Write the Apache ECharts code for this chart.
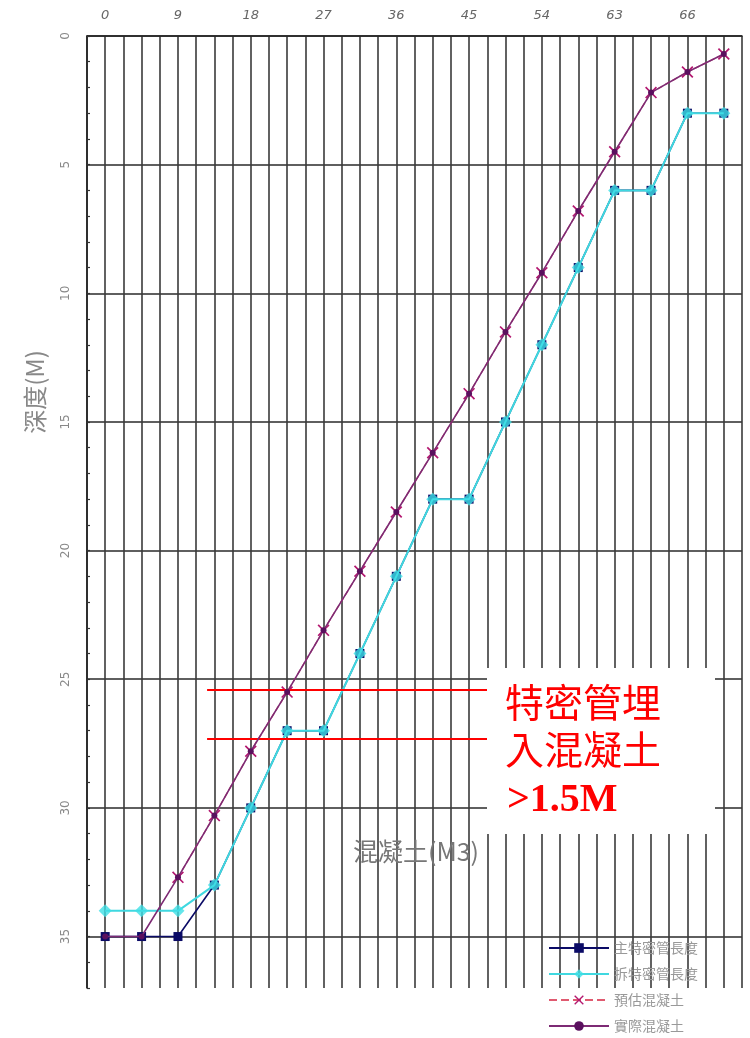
<!DOCTYPE html>
<html>
<head>
<meta charset="utf-8">
<script src="https://cdn.jsdelivr.net/npm/echarts@6/dist/echarts.min.js"></script>
<style>
  html, body { margin: 0; padding: 0; background: #fff; }
  #chart { width: 750px; height: 1038px; }
</style>
</head>
<body>
<div id="chart"></div>
<script>
// Concrete volume (M3) along the x axis, depth (M) on the y axis
const volumeSteps = [0, 4.5, 9, 13.5, 18, 22.5, 27, 31.5, 36, 40.5, 45, 49.5, 54, 58.5, 63, 67.5, 72, 76.5];
const mainTremieDepth = [35, 35, 35, 33, 30, 27, 27, 24, 21, 18, 18, 15, 12, 9, 6, 6, 3, 3];
const cutTremieDepth = [34, 34, 34, 33, 30, 27, 27, 24, 21, 18, 18, 15, 12, 9, 6, 6, 3, 3];
const estimatedConcrete = [null, null, 32.7, 30.3, 27.8, 25.5, 23.1, 20.8, 18.5, 16.2, 13.9, 11.5, 9.2, 6.8, 4.5, 2.2, 1.4, 0.7];
const actualConcrete = [35, 35, 32.7, 30.3, 27.8, 25.5, 23.1, 20.8, 18.5, 16.2, 13.9, 11.5, 9.2, 6.8, 4.5, 2.2, 1.4, 0.7];

const xTickLabels = ['0', '9', '18', '27', '36', '45', '54', '63', '66'];
const seriesNames = ['主特密管長度', '拆特密管長度', '預估混凝土', '實際混凝土'];

// Depth band of the tremie embedment note, and the volume span of its guide lines
const embedDepths = [25.4, 27.3];
const embedSpan = [12.6, 48];

const pairs = (ys) => volumeSteps.map((x, i) => ys[i] == null ? null : [x, ys[i]]).filter(Boolean);

const xMark = 'path://M1,0L5,4L9,0L10,1L6,5L10,9L9,10L5,6L1,10L0,9L4,5L0,1Z';

const chart = echarts.init(document.getElementById('chart'), null, { renderer: 'canvas' });

const option = {
  backgroundColor: '#ffffff',
  animation: false,
  grid: { left: 87, top: 36, right: 8, bottom: 50, containLabel: false },
  xAxis: {
    type: 'value',
    position: 'top',
    min: -2.25,
    max: 78.75,
    interval: 2.25,
    axisLine: { show: true, onZero: false, lineStyle: { color: '#222', width: 1.6 } },
    axisTick: { show: false },
    axisLabel: {
      margin: 14,
      color: '#666',
      fontSize: 13,
      fontStyle: 'italic',
      fontFamily: 'DejaVu Sans',
      formatter: (v) => {
        const i = Math.round(v / 9);
        if (Math.abs(v - i * 9) < 1e-6 && i >= 0 && i < xTickLabels.length) return xTickLabels[i];
        return '';
      }
    },
    splitLine: { show: true, lineStyle: { color: '#3a3a3a', width: 1.6 } }
  },
  yAxis: {
    type: 'value',
    inverse: true,
    min: 0,
    max: 37,
    interval: 1,
    axisLine: { show: true, onZero: false, lineStyle: { color: '#222', width: 1.6 } },
    axisTick: { show: true, inside: true, length: 3, lineStyle: { color: '#333', width: 1.2 } },
    axisLabel: {
      margin: 15,
      rotate: 90,
      color: '#888',
      fontSize: 12,
      fontFamily: 'DejaVu Sans',
      formatter: (v) => (Math.round(v) % 5 === 0 ? String(Math.round(v)) : '')
    },
    splitLine: {
      show: true,
      lineStyle: {
        color: ['#2a2a2a', 'rgba(0,0,0,0)', 'rgba(0,0,0,0)', 'rgba(0,0,0,0)', 'rgba(0,0,0,0)'],
        width: 1.6
      }
    }
  },
  legend: {
    orient: 'vertical',
    left: 548,
    top: 941,
    padding: 0,
    itemWidth: 60,
    itemHeight: 12,
    itemGap: 12,
    data: seriesNames,
    textStyle: { color: '#999', fontSize: 14, lineHeight: 14, fontFamily: 'Noto Sans CJK TC' }
  },
  series: [
    {
      name: seriesNames[0],
      type: 'line',
      z: 2,
      data: pairs(mainTremieDepth),
      symbol: 'rect',
      symbolSize: 9,
      itemStyle: { color: '#0b0b66' },
      lineStyle: { color: '#0b0b66', width: 1.6 }
    },
    {
      name: seriesNames[1],
      type: 'line',
      z: 3,
      data: pairs(cutTremieDepth),
      symbol: 'diamond',
      symbolSize: 13,
      itemStyle: { color: '#3fe0e6', opacity: 0.8 },
      lineStyle: { color: '#3fd8e0', width: 2 }
    },
    {
      name: seriesNames[2],
      type: 'line',
      z: 4,
      data: pairs(estimatedConcrete),
      symbol: xMark,
      symbolSize: 12,
      itemStyle: { color: '#b3176f' },
      lineStyle: { color: '#e05a70', width: 1.4, type: 'dashed' }
    },
    {
      name: seriesNames[3],
      type: 'line',
      z: 5,
      data: pairs(actualConcrete),
      symbol: 'circle',
      symbolSize: 6,
      itemStyle: { color: '#5a105e' },
      lineStyle: { color: '#7d2a74', width: 1.6 },
      markLine: {
        silent: true,
        symbol: 'none',
        label: { show: false },
        lineStyle: { color: '#ff0000', width: 2.2, type: 'solid' },
        data: embedDepths.map((d) => [{ coord: [embedSpan[0], d] }, { coord: [embedSpan[1], d] }])
      }
    }
  ],
  graphic: [
    {
      type: 'rect',
      z: 100,
      shape: { x: 487, y: 668, width: 228, height: 166 },
      style: { fill: '#ffffff' }
    },
    {
      type: 'text',
      z: 101,
      left: 505, top: 683,
      style: { text: '特密管埋', fill: '#ff0000', font: '39px "Noto Sans CJK TC"' }
    },
    {
      type: 'text',
      z: 101,
      left: 505, top: 730,
      style: { text: '入混凝土', fill: '#ff0000', font: '39px "Noto Sans CJK TC"' }
    },
    {
      type: 'text',
      z: 101,
      left: 507, top: 781,
      style: { text: '>1.5M', fill: '#ff0000', font: 'bold 40px "Liberation Serif"' }
    },
    {
      type: 'text',
      z: 50,
      x: 416, y: 851,
      style: { text: '混凝土(M3)', fill: '#777', font: '25px "Noto Sans CJK TC"', align: 'center', verticalAlign: 'middle' }
    },
    {
      type: 'text',
      z: 50,
      x: 35, y: 392,
      rotation: Math.PI / 2,
      style: { text: '深度(M)', fill: '#888', font: '24px "Noto Sans CJK TC"', align: 'center', verticalAlign: 'middle' }
    }
  ]
};

chart.setOption(option);
</script>
</body>
</html>
